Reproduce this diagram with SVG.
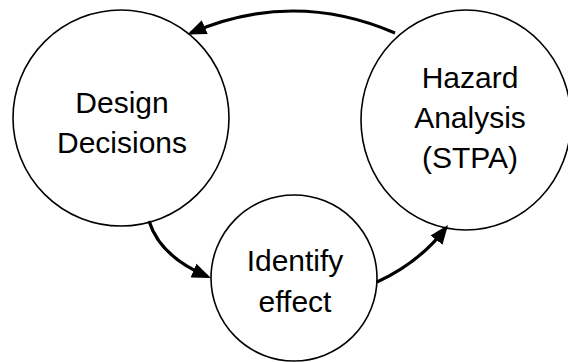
<svg xmlns="http://www.w3.org/2000/svg" width="568" height="362" viewBox="0 0 568 362">
  <style>
    .node { fill: #ffffff; stroke: #000000; stroke-width: 1.6; }
    .label { font-family: "Liberation Sans", Arial, sans-serif; font-size: 30px; fill: #000000; text-anchor: middle; }
    .link { fill: none; stroke: #000000; stroke-width: 3.2; marker-end: url(#arrow); }
  </style>
  <defs>
    <marker id="arrow" markerUnits="userSpaceOnUse" markerWidth="20" markerHeight="16" refX="15" refY="8" orient="auto">
      <path d="M0,0.5 L19,8 L0,15.5 z" fill="#000000"/>
    </marker>
  </defs>

  <g id="design-decisions">
    <circle class="node" cx="121" cy="118" r="108"/>
    <text class="label" x="122" y="113">Design</text>
    <text class="label" x="122" y="153">Decisions</text>
  </g>

  <g id="hazard-analysis">
    <ellipse class="node" cx="466" cy="120" rx="105" ry="110"/>
    <text class="label" x="470" y="88">Hazard</text>
    <text class="label" x="470" y="128">Analysis</text>
    <text class="label" x="470" y="168">(STPA)</text>
  </g>

  <g id="identify-effect">
    <circle class="node" cx="294" cy="278" r="83"/>
    <text class="label" x="295" y="271">Identify</text>
    <text class="label" x="295" y="312">effect</text>
  </g>

  <g id="connectors">
    <path class="link" d="M395,33 Q293,-11 191,33"/>
    <path class="link" d="M149,221 Q160,256.5 207.3,276.4"/>
    <path class="link" d="M377,282 Q419.5,262.5 445.6,228.2"/>
  </g>
</svg>
